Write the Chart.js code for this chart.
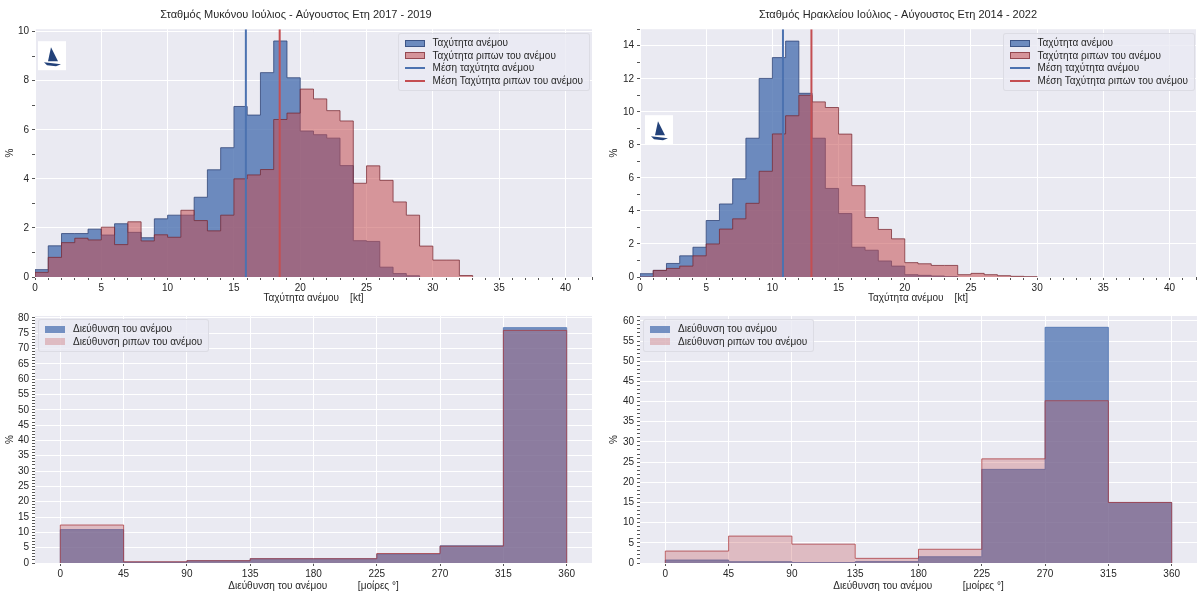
<!DOCTYPE html>
<html lang="el">
<head>
<meta charset="utf-8">
<title>Ταχύτητα και διεύθυνση ανέμου - Μύκονος / Ηράκλειο</title>
<script src="https://cdn.jsdelivr.net/npm/chart.js@4.4.1/dist/chart.umd.min.js"></script>
<style>
  html, body { margin: 0; padding: 0; background: #fff; }
  #wrap { position: relative; width: 1198px; height: 595px; font-family: "Liberation Sans", Arial, sans-serif; }
  #wrap canvas { position: absolute; }
  .legend { position: absolute; background: rgba(234, 234, 242, 0.8); border: 1px solid rgba(218, 218, 226, 0.9);
            border-radius: 3px; padding: 3px 6px; font-size: 10px; color: #262626; line-height: 12.5px; }
  .legend div { white-space: nowrap; }
  .sw { display: inline-block; width: 20px; height: 7px; margin-right: 8px; vertical-align: middle; box-sizing: border-box; }
  .ln { display: inline-block; width: 20px; height: 0; border-top: 2px solid; margin-right: 8px; vertical-align: middle; }
</style>
</head>
<body>
<div id="wrap">
  <canvas id="speedMyk" width="599" height="306" style="left:0;top:0"></canvas>
  <canvas id="speedHer" width="599" height="306" style="left:599px;top:0"></canvas>
  <canvas id="dirMyk" width="599" height="289" style="left:0;top:306px"></canvas>
  <canvas id="dirHer" width="599" height="289" style="left:599px;top:306px"></canvas>

  <div class="legend" style="right:608px;top:33px">
    <div><span class="sw" style="background:rgba(76,114,176,0.8);border:1px solid rgba(50,70,120,0.8)"></span>Ταχύτητα ανέμου</div>
    <div><span class="sw" style="background:rgba(196,78,82,0.55);border:1px solid rgba(120,40,50,0.7)"></span>Ταχύτητα ριπων του ανέμου</div>
    <div><span class="ln" style="border-color:#4C72B0"></span>Μέση ταχύτητα ανέμου</div>
    <div><span class="ln" style="border-color:#C44E52"></span>Μέση Ταχύτητα ριπων του ανέμου</div>
  </div>
  <div class="legend" style="right:3px;top:33px">
    <div><span class="sw" style="background:rgba(76,114,176,0.8);border:1px solid rgba(50,70,120,0.8)"></span>Ταχύτητα ανέμου</div>
    <div><span class="sw" style="background:rgba(196,78,82,0.55);border:1px solid rgba(120,40,50,0.7)"></span>Ταχύτητα ριπων του ανέμου</div>
    <div><span class="ln" style="border-color:#4C72B0"></span>Μέση ταχύτητα ανέμου</div>
    <div><span class="ln" style="border-color:#C44E52"></span>Μέση Ταχύτητα ριπων του ανέμου</div>
  </div>
  <div class="legend" style="left:38px;top:319px">
    <div><span class="sw" style="background:rgba(76,114,176,0.75)"></span>Διεύθυνση του ανέμου</div>
    <div><span class="sw" style="background:rgba(196,78,82,0.3)"></span>Διεύθυνση ριπων του ανέμου</div>
  </div>
  <div class="legend" style="left:643px;top:319px">
    <div><span class="sw" style="background:rgba(76,114,176,0.75)"></span>Διεύθυνση του ανέμου</div>
    <div><span class="sw" style="background:rgba(196,78,82,0.3)"></span>Διεύθυνση ριπων του ανέμου</div>
  </div>
</div>

<script>
// --- ΔΕΔΟΜΕΝΑ ---
// ακμές κλάσεων ταχύτητας [kt] (κλάσεις του 1 kt)
const speedEdges = [0, 1, 2, 3, 4, 5, 6, 7, 8, 9, 10, 11, 12, 13, 14, 15, 16, 17, 18, 19, 20,
  21, 22, 23, 24, 25, 26, 27, 28, 29, 30, 31, 32, 33];
const speedTicks = [0, 5, 10, 15, 20, 25, 30, 35, 40];

// Μύκονος 2017 - 2019 (% ανά κλάση)
const windMyk = [0.3, 1.27, 1.77, 1.77, 1.95, 1.71, 2.17, 1.82, 1.6, 2.37, 2.52, 2.52, 3.25, 4.37,
  5.27, 6.95, 6.6, 8.33, 9.62, 8.12, 5.95, 5.8, 5.66, 4.54, 1.48, 1.45, 0.4, 0.14, 0.05];
const gustMyk = [0.19, 0.8, 1.4, 1.58, 1.51, 2.03, 1.32, 2.25, 1.47, 1.72, 1.62, 2.72, 2.3, 1.88,
  2.52, 4.0, 4.16, 4.38, 6.42, 6.68, 7.66, 7.26, 6.78, 6.36, 3.82, 4.53, 3.94, 3.06, 2.52, 1.26,
  0.69, 0.69, 0.06];
const meanWindMyk = 15.9;
const meanGustMyk = 18.45;
const pctTicksSpeedMyk = [0, 2, 4, 6, 8, 10];

// Ηράκλειο 2014 - 2022
const windHer = [0.2, 0.4, 0.82, 1.28, 1.8, 3.42, 4.42, 5.94, 8.4, 12.02, 13.28, 14.28, 11.12, 8.4,
  5.36, 3.84, 1.8, 1.62, 0.97, 0.66, 0.14, 0.1, 0.06, 0.02];
const gustHer = [0, 0.4, 0.52, 0.66, 1.28, 2.0, 2.9, 3.52, 4.46, 6.4, 8.66, 9.76, 11.0, 10.6, 10.26,
  8.65, 5.53, 3.6, 2.88, 2.31, 0.87, 0.8, 0.7, 0.7, 0.14, 0.22, 0.14, 0.08, 0.04, 0.02];
const meanWindHer = 10.8;
const meanGustHer = 12.95;
const pctTicksSpeedHer = [0, 2, 4, 6, 8, 10, 12, 14];

// διεύθυνση [μοίρες], κλάσεις των 45°
const dirEdges = [0, 45, 90, 135, 180, 225, 270, 315, 360];
const dirWindMyk = [10.9, 0.3, 0.75, 1.4, 1.4, 2.9, 5.6, 76.8];
const dirGustMyk = [12.4, 0.4, 0.75, 1.4, 1.4, 3.1, 5.5, 75.9];
const dirWindHer = [0.74, 0.33, 0.1, 0.35, 1.56, 23.2, 58.4, 15.0];
const dirGustHer = [2.96, 6.67, 4.67, 1.15, 3.4, 25.8, 40.2, 15.0];
const pctTicksDirMyk = [0, 5, 10, 15, 20, 25, 30, 35, 40, 45, 50, 55, 60, 65, 70, 75, 80];
const pctTicksDirHer = [0, 5, 10, 15, 20, 25, 30, 35, 40, 45, 50, 55, 60];

// --- ΣΤΥΛ ---
Chart.defaults.font.family = '"Liberation Sans", Arial, sans-serif';
Chart.defaults.color = "#262626";
const TXT = "#262626";
const TICK = "#555";
const BG = "#EAEAF2";

// σημεία για ιστόγραμμα τύπου "step" (κλιμακωτή γραμμή)
function stepPoints(edges, values) {
  const e = edges.slice(0, values.length + 1);
  const pts = [{ x: e[0], y: 0 }];
  values.forEach((v, i) => pts.push({ x: e[i], y: v }));
  pts.push({ x: e[e.length - 1], y: values[values.length - 1] });
  pts.push({ x: e[e.length - 1], y: 0 });
  return pts;
}

function range(a, b, step) {
  const out = [];
  for (let v = a; v <= b + 1e-9; v += step) out.push(Math.round(v * 100) / 100);
  return out;
}

// φόντο περιοχής σχεδίασης + μικρό λογότυπο
const bgPlugin = {
  id: "bgPlugin",
  beforeDraw(chart) {
    const a = chart.chartArea;
    const ctx = chart.ctx;
    ctx.save();
    ctx.fillStyle = BG;
    ctx.fillRect(a.left, a.top, a.right - a.left, a.bottom - a.top);
    ctx.restore();
  },
  afterDatasetsDraw(chart, args, opts) {
    if (!opts.logo) return;
    const a = chart.chartArea;
    const x = a.left + opts.logo[0];
    const y = a.top + opts.logo[1];
    const ctx = chart.ctx;
    ctx.save();
    ctx.fillStyle = "#fff";
    ctx.fillRect(x, y, 28, 29);
    ctx.fillStyle = "#23427a";
    ctx.beginPath(); // πανί
    ctx.moveTo(x + 13, y + 6);
    ctx.lineTo(x + 20, y + 20);
    ctx.lineTo(x + 10, y + 20);
    ctx.closePath();
    ctx.fill();
    ctx.beginPath(); // γάστρα
    ctx.moveTo(x + 6, y + 21);
    ctx.lineTo(x + 23, y + 23);
    ctx.lineTo(x + 18, y + 25);
    ctx.lineTo(x + 9, y + 24);
    ctx.closePath();
    ctx.fill();
    ctx.restore();
  },
};

function histDataset(edges, values, fill, edge, order) {
  return {
    data: stepPoints(edges, values),
    stepped: true,
    fill: "origin",
    backgroundColor: fill,
    borderColor: edge,
    borderWidth: 1,
    pointRadius: 0,
    order: order,
  };
}

function meanDataset(x, yMax, color) {
  return {
    data: [{ x: x, y: 0 }, { x: x, y: yMax }],
    borderColor: color,
    borderWidth: 2,
    pointRadius: 0,
    fill: false,
    order: 0,
  };
}

function commonOptions(cfg) {
  return {
    responsive: false,
    animation: false,
    events: [],
    layout: { padding: { top: cfg.padTop || 0, right: cfg.padRight } },
    plugins: {
      legend: { display: false },
      tooltip: { enabled: false },
      filler: { drawTime: "beforeDatasetDraw" },
      title: cfg.title
        ? { display: true, text: cfg.title, color: TXT, font: { size: 11, weight: "normal" }, padding: { top: 8, bottom: 8 } }
        : { display: false },
      bgPlugin: { logo: cfg.logo || null },
    },
    scales: {
      x: {
        type: "linear",
        min: cfg.xMin,
        max: cfg.xMax,
        afterBuildTicks: (axis) => { axis.ticks = cfg.xAll.map((v) => ({ value: v })); },
        afterFit: (axis) => { axis.height = cfg.xHeight; },
        border: { display: false },
        grid: {
          color: (c) => (c.tick && cfg.xMajor.includes(c.tick.value) ? "#fff" : "rgba(0,0,0,0)"),
          tickColor: TICK,
          tickLength: 3,
        },
        ticks: {
          autoSkip: false,
          maxRotation: 0,
          padding: cfg.xPad,
          color: TXT,
          font: { size: 10 },
          callback: (v) => (cfg.xMajor.includes(v) ? String(v) : ""),
        },
        title: { display: true, text: cfg.xTitle, color: TXT, font: { size: 10 }, padding: { top: 0, bottom: cfg.xTitlePad } },
      },
      y: {
        type: "linear",
        min: 0,
        max: cfg.yMax,
        afterBuildTicks: (axis) => { axis.ticks = range(0, cfg.yMax, 1).map((v) => ({ value: v })); },
        afterFit: (axis) => { axis.width = cfg.yWidth; },
        border: { display: false },
        grid: {
          color: (c) => (c.tick && cfg.yMajor.includes(c.tick.value) ? "#fff" : "rgba(0,0,0,0)"),
          tickColor: TICK,
          tickLength: 3,
        },
        ticks: {
          autoSkip: false,
          padding: 3,
          color: TXT,
          font: { size: 10 },
          callback: (v) => (cfg.yMajor.includes(v) ? String(v) : ""),
        },
        title: { display: true, text: "%", color: TXT, font: { size: 10 }, padding: { top: cfg.yTitlePad, bottom: 0 } },
      },
    },
  };
}

// --- ΤΑΧΥΤΗΤΑ ---
function speedChart(id, title, wind, gust, meanW, meanG, yMax, yMajor, yWidth, padRight, logo) {
  new Chart(document.getElementById(id).getContext("2d"), {
    type: "line",
    data: {
      datasets: [
        meanDataset(meanW, yMax, "#4C72B0"),
        meanDataset(meanG, yMax, "#C44E52"),
        histDataset(speedEdges, gust, "rgba(196,78,82,0.55)", "rgba(120,40,50,0.75)", 2),
        histDataset(speedEdges, wind, "rgba(76,114,176,0.8)", "rgba(50,70,120,0.8)", 3),
      ],
    },
    options: commonOptions({
      title: title,
      padRight: padRight,
      xMin: 0, xMax: 42, xAll: range(0, 42, 1), xMajor: speedTicks,
      xHeight: 29, xPad: 2, xTitlePad: 2,
      xTitle: "Ταχύτητα ανέμου    [kt]",
      yMax: yMax, yMajor: yMajor, yWidth: yWidth, yTitlePad: yWidth > 38 ? 9 : 4,
      logo: logo,
    }),
    plugins: [bgPlugin],
  });
}

// --- ΔΙΕΥΘΥΝΣΗ ---
function dirChart(id, wind, gust, yMax, yMajor, yWidth, padRight) {
  new Chart(document.getElementById(id).getContext("2d"), {
    type: "line",
    data: {
      datasets: [
        histDataset(dirEdges, gust, "rgba(196,78,82,0.3)", "rgba(170,55,60,0.75)", 2),
        histDataset(dirEdges, wind, "rgba(76,114,176,0.75)", "rgba(76,114,176,0.8)", 3),
      ],
    },
    options: commonOptions({
      padTop: 10,
      padRight: padRight,
      xMin: -18, xMax: 378, xAll: dirEdges, xMajor: dirEdges,
      xHeight: 32, xPad: 2, xTitlePad: 3,
      xTitle: "Διεύθυνση του ανέμου           [μοίρες °]",
      yMax: yMax, yMajor: yMajor, yWidth: yWidth, yTitlePad: yWidth > 38 ? 9 : 4,
    }),
    plugins: [bgPlugin],
  });
}

speedChart("speedMyk", "Σταθμός Μυκόνου Ιούλιος - Αύγουστος Ετη 2017 - 2019",
  windMyk, gustMyk, meanWindMyk, meanGustMyk, 10.1, pctTicksSpeedMyk, 35, 7, [3, 12]);
speedChart("speedHer", "Σταθμός Ηρακλείου Ιούλιος - Αύγουστος Ετη 2014 - 2022",
  windHer, gustHer, meanWindHer, meanGustHer, 15.0, pctTicksSpeedHer, 41, 1, [5, 86]);
dirChart("dirMyk", dirWindMyk, dirGustMyk, 80.6, pctTicksDirMyk, 35, 7);
dirChart("dirHer", dirWindHer, dirGustHer, 61.2, pctTicksDirHer, 41, 1);
</script>
</body>
</html>
